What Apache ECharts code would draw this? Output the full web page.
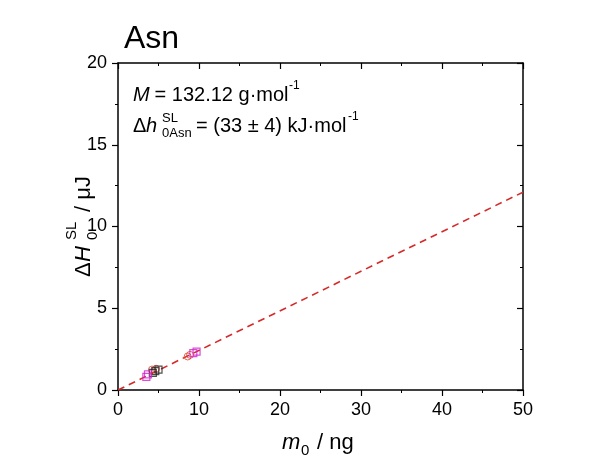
<!DOCTYPE html>
<html><head><meta charset="utf-8">
<script src="https://cdn.jsdelivr.net/npm/echarts@6/dist/echarts.min.js"></script>
<style>html,body{margin:0;padding:0;background:#fff}#c{width:600px;height:459px}</style>
</head><body><div id="c"></div>
<script>
var xTicks = [0, 10, 20, 30, 40, 50];
var yTicks = [0, 5, 10, 15, 20];
var fitLine = [[0, 0], [50, 12.1]];
var magentaPts = [[3.5, 0.8], [3.7, 0.95], [9.3, 2.25], [9.7, 2.35]];
var blackPts = [[4.3, 1.05], [4.6, 1.15], [5.0, 1.25]];
var redPts = [[4.2, 1.25], [4.7, 1.3], [8.6, 2.05], [8.9, 2.15]];

var F = 'Liberation Sans, Arial, sans-serif';
var chart = echarts.init(document.getElementById('c'));
function axisBase(inside, showLabel) {
  return {
    axisLine: {show: true, onZero: false, lineStyle: {color: '#000', width: 1.5}},
    axisTick: {show: true, inside: inside, length: 6, lineStyle: {color: '#000', width: 1.2}},
    minorTick: {show: true, splitNumber: 2, length: 3, lineStyle: {color: '#000', width: 1}},
    splitLine: {show: false},
    axisLabel: {show: showLabel, color: '#000', fontSize: 18, fontFamily: F, margin: 11}
  };
}
var xb = Object.assign({type: 'value', min: xTicks[0], max: xTicks[xTicks.length-1], interval: 10, position: 'bottom'}, axisBase(false, true));
var xt = Object.assign({type: 'value', min: xTicks[0], max: xTicks[xTicks.length-1], interval: 10, position: 'top'}, axisBase(true, false));
var yl = Object.assign({type: 'value', min: yTicks[0], max: yTicks[yTicks.length-1], interval: 5, position: 'left'}, axisBase(false, true));
var yr = Object.assign({type: 'value', min: yTicks[0], max: yTicks[yTicks.length-1], interval: 5, position: 'right'}, axisBase(true, false));

function ts(x, y, s, size, italic) {
  return {type: 'text', x: x, y: y, style: {text: s, fontSize: size, fontFamily: F, fontStyle: italic ? 'italic' : 'normal', fill: '#000', verticalAlign: 'middle', align: 'left'}};
}

chart.setOption({
  backgroundColor: '#fff',
  animation: false,
  grid: {left: 118, right: 77, top: 63, bottom: 69},
  xAxis: [xb, xt],
  yAxis: [yl, yr],
  series: [
    {type: 'line', data: fitLine, symbol: 'none', lineStyle: {color: '#d62a2a', width: 1.6, type: [7, 5]}, z: 1},
    {type: 'scatter', data: redPts, symbol: 'circle', symbolSize: 7, itemStyle: {color: 'rgba(0,0,0,0)', borderColor: '#e0402a', borderWidth: 1}},
    {type: 'scatter', data: blackPts, symbol: 'rect', symbolSize: 7, itemStyle: {color: 'rgba(0,0,0,0)', borderColor: '#222', borderWidth: 1.2}},
    {type: 'scatter', data: magentaPts, symbol: 'rect', symbolSize: 7, itemStyle: {color: 'rgba(0,0,0,0)', borderColor: '#d020d0', borderWidth: 1.2}}
  ],
  graphic: [
    ts(124, 39, 'Asn', 32, false),
    ts(133, 95, 'M', 20, true),
    ts(149, 95, ' = 132.12 g·mol', 20, false),
    ts(289, 86, '-1', 12, false),
    ts(133, 126, 'Δ', 20, false),
    ts(146, 126, 'h', 20, true),
    ts(162, 118, 'SL', 13, false),
    ts(162, 133, '0Asn', 13, false),
    ts(196, 126, '= (33 ± 4) kJ·mol', 20, false),
    ts(348, 117, '-1', 12, false),
    {type: 'group', x: 84, y: 224, rotation: Math.PI / 2, children: [
      ts(-53, 0, 'Δ', 22, false),
      ts(-38, 0, 'H', 22, true),
      ts(-16, -12, 'SL', 15, false),
      ts(-16, 9, '0', 15, false),
      ts(12, 0, '/ μJ', 22, false)
    ]},
    ts(282, 443, 'm', 22, true),
    ts(301, 451, '0', 15, false),
    ts(317, 443, '/ ng', 22, false)
  ]
});
</script></body></html>
